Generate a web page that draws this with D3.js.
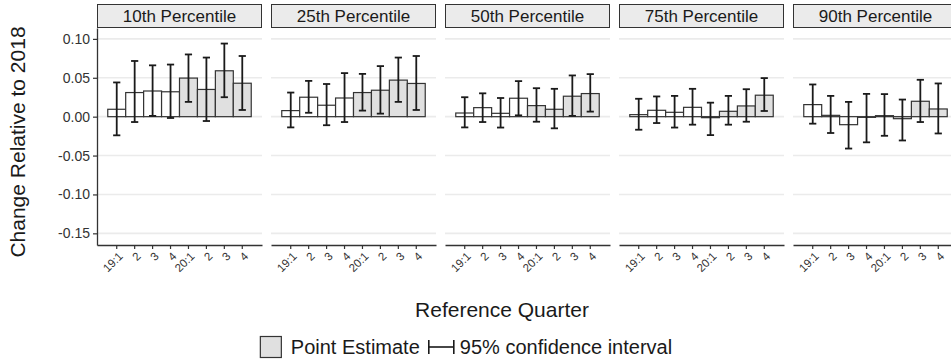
<!DOCTYPE html>
<html>
<head>
<meta charset="utf-8">
<script src="https://cdn.jsdelivr.net/npm/d3@7"></script>
<style>
  body { margin: 0; background: #fff; }
  svg { display: block; font-family: "Liberation Sans", Arial, sans-serif; }
</style>
</head>
<body>
<svg id="chart" width="951" height="362"></svg>
<script>
//facet titles
var panels = ["10th Percentile", "25th Percentile", "50th Percentile", "75th Percentile", "90th Percentile"];

//reference quarters (x tick labels) and their year, 2020 bars are shaded
var quarters = ["19:1", "2", "3", "4", "20:1", "2", "3", "4"];
var quarterYear = [2019, 2019, 2019, 2019, 2020, 2020, 2020, 2020];

//point estimates, one row per panel
var estimate = [
  [0.0095, 0.031, 0.033, 0.032, 0.0496, 0.035, 0.059, 0.043],
  [0.0078, 0.025, 0.0147, 0.024, 0.031, 0.034, 0.047, 0.0427],
  [0.0047, 0.0116, 0.0043, 0.0237, 0.0142, 0.0095, 0.0263, 0.0297],
  [0.0026, 0.0082, 0.0056, 0.012, -0.0013, 0.0069, 0.0138, 0.0276],
  [0.0155, 0.0017, -0.0103, -0.0009, 0.0013, -0.0026, 0.0198, 0.0099]
];
//95% confidence interval, lower bound
var lower = [
  [-0.024, -0.0069, 0.001, -0.0017, 0.019, -0.0056, 0.025, 0.0086],
  [-0.0138, 0.005, -0.011, -0.0069, 0.0078, 0.0039, 0.019, 0.0086],
  [-0.0138, -0.0069, -0.014, 0.0017, -0.0065, -0.015, 0.001, 0.0065],
  [-0.0168, -0.0082, -0.014, -0.0103, -0.0237, -0.0103, -0.0065, 0.0073],
  [-0.009, -0.021, -0.041, -0.033, -0.0246, -0.0306, -0.0069, -0.0216]
];
//95% confidence interval, upper bound
var upper = [
  [0.044, 0.0716, 0.066, 0.067, 0.080, 0.076, 0.094, 0.078],
  [0.031, 0.046, 0.042, 0.056, 0.055, 0.065, 0.076, 0.078],
  [0.025, 0.030, 0.024, 0.0457, 0.0366, 0.0358, 0.053, 0.0547],
  [0.023, 0.026, 0.0267, 0.0358, 0.018, 0.0267, 0.0353, 0.0496],
  [0.0414, 0.0267, 0.019, 0.0293, 0.029, 0.022, 0.0474, 0.0427]
];

var yTicks = [0.10, 0.05, 0.00, -0.05, -0.10, -0.15];

//colors
var fill2020 = "#e0e0e0";
var fill2019 = "#ffffff";
var barStroke = "#333333";
var gridColor = "#ebebeb";
var stripFill = "#ebebeb";
var textColor = "#1a1a1a";

//layout
var panelLeft = 97, panelWidth = 165, panelGap = 9;
var plotTop = 28, plotBottom = 245;
var stripTop = 4, stripBottom = 27;

var svg = d3.select("#chart");

var y = d3.scaleLinear()
  .domain([-0.165, 0.114])
  .range([plotBottom, plotTop]);

var x = d3.scaleBand()
  .domain(d3.range(quarters.length))
  .range([0, panelWidth])
  .paddingInner(0)
  .paddingOuter(0.6);

panels.forEach(function(title, p) {
  var g = svg.append("g")
    .attr("transform", "translate(" + (panelLeft + p * (panelWidth + panelGap)) + ",0)");

  //grid lines
  g.selectAll(".grid")
    .data(yTicks)
    .enter().append("line")
    .attr("x1", 0).attr("x2", panelWidth)
    .attr("y1", function(d) { return y(d); })
    .attr("y2", function(d) { return y(d); })
    .attr("stroke", gridColor)
    .attr("stroke-width", 1.6);

  //strip
  g.append("rect")
    .attr("x", 0.5).attr("y", stripTop + 0.5)
    .attr("width", panelWidth - 1).attr("height", stripBottom - stripTop)
    .attr("fill", stripFill)
    .attr("stroke", "#333").attr("stroke-width", 1);
  g.append("text")
    .attr("x", panelWidth / 2).attr("y", (stripTop + stripBottom) / 2 + 6.5)
    .attr("text-anchor", "middle")
    .attr("font-size", 17)
    .attr("fill", textColor)
    .text(title);

  //bars
  var rows = d3.range(quarters.length).map(function(i) {
    return { i: i, est: estimate[p][i], lo: lower[p][i], hi: upper[p][i], year: quarterYear[i] };
  });

  g.selectAll(".bar")
    .data(rows)
    .enter().append("rect")
    .attr("x", function(d) { return x(d.i); })
    .attr("width", x.bandwidth())
    .attr("y", function(d) { return y(Math.max(0, d.est)); })
    .attr("height", function(d) { return Math.abs(y(d.est) - y(0)); })
    .attr("fill", function(d) { return d.year == 2020 ? fill2020 : fill2019; })
    .attr("stroke", barStroke)
    .attr("stroke-width", 1.2);

  //error bars
  var cap = 3.6;
  var eb = g.selectAll(".err")
    .data(rows)
    .enter().append("g")
    .attr("stroke", textColor)
    .attr("stroke-width", 1.8);
  eb.append("line")
    .attr("x1", function(d) { return x(d.i) + x.bandwidth() / 2; })
    .attr("x2", function(d) { return x(d.i) + x.bandwidth() / 2; })
    .attr("y1", function(d) { return y(d.lo); })
    .attr("y2", function(d) { return y(d.hi); });
  eb.append("line")
    .attr("x1", function(d) { return x(d.i) + x.bandwidth() / 2 - cap; })
    .attr("x2", function(d) { return x(d.i) + x.bandwidth() / 2 + cap; })
    .attr("y1", function(d) { return y(d.hi); })
    .attr("y2", function(d) { return y(d.hi); });
  eb.append("line")
    .attr("x1", function(d) { return x(d.i) + x.bandwidth() / 2 - cap; })
    .attr("x2", function(d) { return x(d.i) + x.bandwidth() / 2 + cap; })
    .attr("y1", function(d) { return y(d.lo); })
    .attr("y2", function(d) { return y(d.lo); });

  //x axis
  var xAxis = g.append("g")
    .attr("transform", "translate(0," + plotBottom + ")")
    .call(d3.axisBottom(x)
      .tickFormat(function(i) { return quarters[i]; })
      .tickSize(4)
      .tickSizeOuter(0));
  xAxis.select(".domain").attr("stroke", "#333").attr("stroke-width", 1.3);
  xAxis.selectAll(".tick line").attr("stroke", "#333").attr("stroke-width", 1.2);
  xAxis.selectAll(".tick text").remove();
  //rotated labels
  xAxis.selectAll(".tick")
    .append("text")
    .attr("font-size", 11.5)
    .attr("fill", "#333")
    .attr("text-anchor", "end")
    .attr("transform", "translate(4,9) rotate(-45)")
    .attr("dy", "0.35em")
    .text(function(i) { return quarters[i]; });

  //y axis on first panel only
  if (p == 0) {
    var yAxis = g.append("g")
      .call(d3.axisLeft(y)
        .tickValues(yTicks)
        .tickSize(4)
        .tickSizeOuter(0)
        .tickPadding(3));
    yAxis.select(".domain").attr("stroke", "#333").attr("stroke-width", 1.3);
    yAxis.selectAll(".tick line").attr("stroke", "#333").attr("stroke-width", 1.2);
    yAxis.selectAll(".tick text")
      .attr("font-size", 14)
      .attr("fill", "#333")
      .text(function(d) { return d3.format(".2f")(d).replace("\u2212", "-"); });
  }
});

//axis titles
svg.append("text")
  .attr("transform", "translate(25,142) rotate(-90)")
  .attr("text-anchor", "middle")
  .attr("font-size", 21)
  .attr("fill", textColor)
  .text("Change Relative to 2018");

svg.append("text")
  .attr("x", 502).attr("y", 317)
  .attr("text-anchor", "middle")
  .attr("font-size", 21)
  .attr("fill", textColor)
  .text("Reference Quarter");

//legend, laid out from measured text widths and centred
var legendCenter = 466, legendFont = 20;
var legend = svg.append("g");
legend.append("rect")
  .attr("x", 0.5).attr("y", 0.5).attr("width", 21).attr("height", 21)
  .attr("fill", fill2020).attr("stroke", barStroke).attr("stroke-width", 1.2);
var t1 = legend.append("text")
  .attr("x", 31).attr("y", 18)
  .attr("font-size", legendFont).attr("fill", textColor)
  .text("Point Estimate");
var keyX = 31 + t1.node().getComputedTextLength() + 9;
var key = legend.append("g").attr("stroke", textColor).attr("stroke-width", 1.6);
key.append("line").attr("x1", keyX).attr("x2", keyX + 25).attr("y1", 11).attr("y2", 11);
key.append("line").attr("x1", keyX).attr("x2", keyX).attr("y1", 4).attr("y2", 18);
key.append("line").attr("x1", keyX + 25).attr("x2", keyX + 25).attr("y1", 4).attr("y2", 18);
var t2 = legend.append("text")
  .attr("x", keyX + 31).attr("y", 18)
  .attr("font-size", legendFont).attr("fill", textColor)
  .text("95% confidence interval");
var legendWidth = keyX + 31 + t2.node().getComputedTextLength();
legend.attr("transform", "translate(" + (legendCenter - legendWidth / 2) + ",336)");
</script>
</body>
</html>
